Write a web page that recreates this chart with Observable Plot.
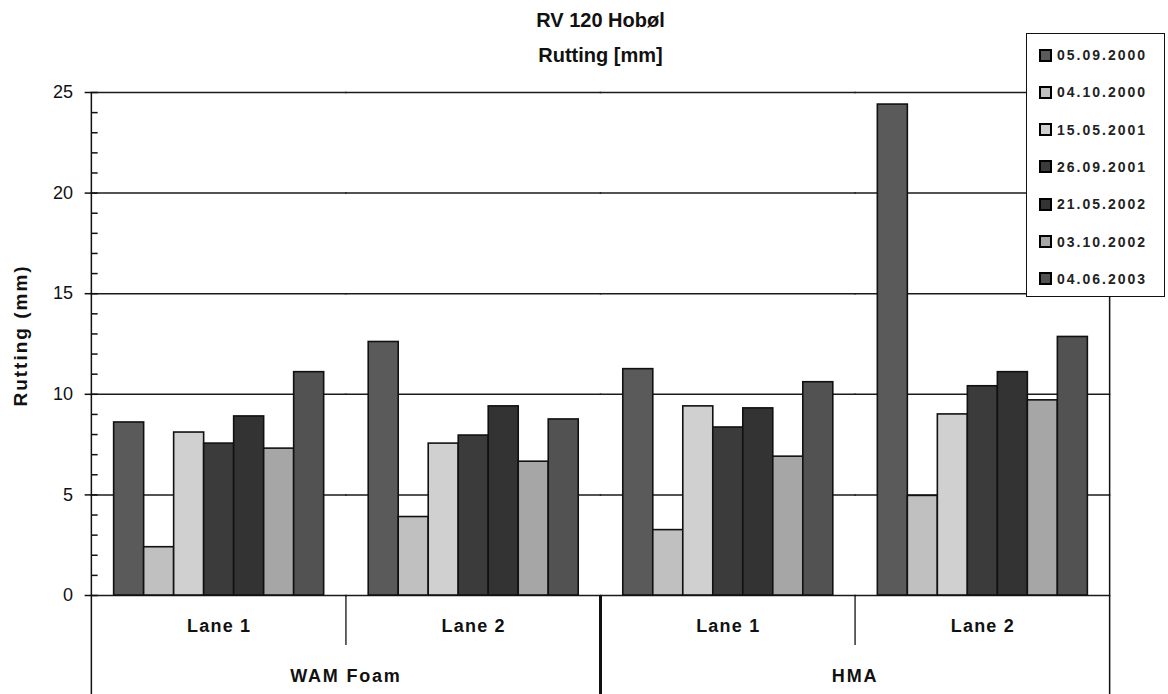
<!DOCTYPE html>
<html>
<head>
<meta charset="utf-8">
<script src="https://cdn.jsdelivr.net/npm/d3@7"></script>
<script src="https://cdn.jsdelivr.net/npm/@observablehq/plot@0.6"></script>
<style>
  body { margin: 0; background: #fff; font-family: "Liberation Sans", Arial, sans-serif; }
  #wrap { position: relative; width: 1168px; height: 694px; overflow: hidden; }
  #chart { position: absolute; left: 0; top: 0; }
  #title { position: absolute; left: 92px; width: 1017px; top: 3px; text-align: center;
           font-weight: bold; font-size: 20px; line-height: 35px; color: #111; }
  #legend { position: absolute; left: 1026px; top: 33px; width: 139px; height: 264px;
            box-sizing: border-box; border: 1.5px solid #111; background: #fff; }
  .item { position: absolute; left: 12px; height: 16px; display: flex; align-items: center; }
  .sw { width: 13px; height: 13px; box-sizing: border-box; border: 2px solid #000; margin-right: 5px; }
  .lab { font-size: 14px; font-weight: bold; letter-spacing: 2px; color: #222; }
</style>
</head>
<body>
<div id="wrap">
  <div id="chart"></div>
  <div id="title">RV 120 Hobøl<br>Rutting [mm]</div>
  <div id="legend"></div>
</div>
<script>
// ---- data ----
const groups = ["WAM Foam|Lane 1", "WAM Foam|Lane 2", "HMA|Lane 1", "HMA|Lane 2"];
const laneLabels = ["Lane 1", "Lane 2", "Lane 1", "Lane 2"];
const materials = ["WAM Foam", "HMA"];
const dates = ["05.09.2000", "04.10.2000", "15.05.2001", "26.09.2001", "21.05.2002", "03.10.2002", "04.06.2003"];
const wamLane1 = [8.6, 2.4, 8.1, 7.55, 8.9, 7.3, 11.1];
const wamLane2 = [12.6, 3.9, 7.55, 7.95, 9.4, 6.65, 8.75];
const hmaLane1 = [11.25, 3.25, 9.4, 8.35, 9.3, 6.9, 10.6];
const hmaLane2 = [24.4, 4.95, 9.0, 10.4, 11.1, 9.7, 12.85];
const yTicks = [0, 5, 10, 15, 20, 25];
const yMinorTicks = d3.range(0, 26);
const colors = ["#5a5a5a", "#c0c0c0", "#d0d0d0", "#3b3b3b", "#333333", "#a6a6a6", "#525252"];
const yLabel = "Rutting (mm)";

const series = [wamLane1, wamLane2, hmaLane1, hmaLane2];
const rows = groups.flatMap((g, i) => dates.map((d, j) => ({group: g, date: d, value: series[i][j]})));
const laneRows = groups.map((g, i) => ({group: g, lane: laneLabels[i]}));

const plot = Plot.plot({
  width: 1168,
  height: 694,
  marginTop: 92,
  marginBottom: 99,
  marginLeft: 92,
  marginRight: 59,
  style: {fontFamily: "'Liberation Sans', Arial, sans-serif", background: "transparent", overflow: "visible", color: "#111"},
  fx: {domain: groups, paddingInner: 0.175, paddingOuter: 0.085, round: false, axis: null, label: null},
  x: {domain: dates, padding: 0, round: false, axis: null},
  y: {domain: [0, 25], axis: null},
  color: {domain: dates, range: colors},
  marks: [
    Plot.ruleY(yTicks, {insetLeft: -23, insetRight: -23, stroke: "#1a1a1a", strokeWidth: 1.5}),
    Plot.barY(rows, {fx: "group", x: "date", y: "value", fill: "date", stroke: "#111", strokeWidth: 1.6, inset: 0}),
    Plot.axisY(yMinorTicks, {tickSize: -6, text: null, dx: -22, stroke: "#111", strokeWidth: 1.5, label: null}),
    Plot.axisY(yTicks, {tickSize: 7, tickPadding: 12, dx: -22, fontSize: 18, label: null, stroke: "#111", strokeWidth: 1.5, fill: "#111"}),
    Plot.text(laneRows, {fx: "group", text: "lane", frameAnchor: "bottom", dy: 36, fontSize: 18, fontWeight: "bold", fill: "#111", className: "lane-label"})
  ]
});
document.getElementById("chart").appendChild(plot);

// category table lines and labels, positioned from Plot's own scales
const svg = d3.select(plot);
svg.selectAll(".lane-label text").attr("letter-spacing", 1.2);
const fx = plot.scale("fx");
const ys = plot.scale("y");
const bw = fx.bandwidth;
const step = fx.apply(groups[1]) - fx.apply(groups[0]);
const left = fx.apply(groups[0]) - (step - bw) / 2;
const right = fx.apply(groups[3]) + bw + (step - bw) / 2;
const sep = i => fx.apply(groups[i]) + bw + (step - bw) / 2;
const y0 = ys.apply(0), yTop = ys.apply(25), H = 694;
const g = svg.append("g").attr("stroke", "#111");
g.append("line").attr("x1", left).attr("x2", left).attr("y1", yTop).attr("y2", H).attr("stroke-width", 1.5);
g.append("line").attr("x1", right).attr("x2", right).attr("y1", yTop).attr("y2", H).attr("stroke-width", 1.5);
[0, 2].forEach(i => g.append("line").attr("x1", sep(i)).attr("x2", sep(i)).attr("y1", y0).attr("y2", y0 + 50).attr("stroke-width", 1.3));
g.append("line").attr("x1", sep(1)).attr("x2", sep(1)).attr("y1", y0).attr("y2", H).attr("stroke-width", 3);
materials.forEach((m, k) => {
  const cx = (fx.apply(groups[2 * k]) + fx.apply(groups[2 * k + 1]) + bw) / 2;
  svg.append("text").attr("x", cx).attr("y", y0 + 87).attr("text-anchor", "middle")
    .attr("font-size", 18).attr("font-weight", "bold").attr("letter-spacing", 1.8).attr("fill", "#111").text(m);
});
svg.append("text").attr("transform", `translate(27,${(y0 + yTop) / 2 - 8}) rotate(-90)`)
  .attr("text-anchor", "middle").attr("font-size", 19).attr("font-weight", "bold")
  .attr("letter-spacing", 2).attr("fill", "#111").text(yLabel);

// legend
const legend = document.getElementById("legend");
dates.forEach((d, i) => {
  const it = document.createElement("div");
  it.className = "item";
  it.style.top = (13 + 37.3 * i) + "px";
  it.innerHTML = `<div class="sw" style="background:${colors[i]}"></div><span class="lab">${d}</span>`;
  legend.appendChild(it);
});
</script>
</body>
</html>
